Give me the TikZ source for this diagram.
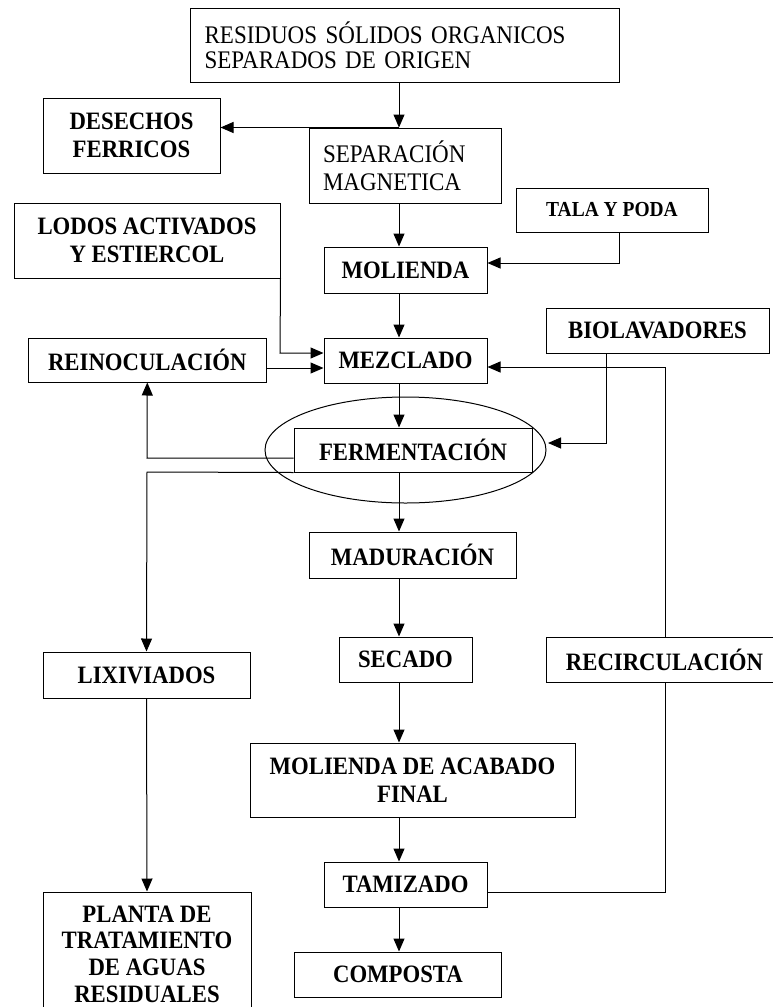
\documentclass[tikz,border=0pt]{standalone}
\usepackage{fontspec}
\setmainfont[FakeStretch=0.91]{Liberation Serif}
\usetikzlibrary{arrows.meta,shapes.geometric}
\begin{document}
\begin{tikzpicture}[x=1pt,y=-1pt,
  box/.style={draw, line width=1pt, inner sep=0pt, align=center, font=\fontsize{25pt}{27.5pt}\selectfont\bfseries},
  plainbox/.style={draw, line width=1pt, inner ysep=0pt, align=left},
  arr/.style={line width=1pt, -{Triangle[length=13pt,width=11pt]}},
  ln/.style={line width=1pt}]
\useasboundingbox (0,0) rectangle (773,1007);
\clip (0,0) rectangle (773,1007);

% nodes
\node[plainbox, text width=400.4pt, inner xsep=14pt, minimum height=74pt,
      font=\fontsize{25.3pt}{25pt}\selectfont] (res) at (404.8,45) {RESIDUOS SÓLIDOS ORGANICOS\\SEPARADOS DE ORIGEN};
\node[box, minimum width=177pt, minimum height=75pt] (des) at (131.5,135.5) {DESECHOS\\FERRICOS};
\node[plainbox, text width=164.5pt, inner xsep=14pt, minimum height=75pt,
      font=\fontsize{25.3pt}{28pt}\selectfont] (sep) at (405.25,165.5) {SEPARACIÓN\\MAGNETICA};
\node[box, minimum width=192pt, minimum height=44pt, font=\fontsize{21.4pt}{24pt}\selectfont\bfseries] (tala) at (612,210) {TALA Y PODA};
\node[box, minimum width=266pt, minimum height=75pt] (lodos) at (147,240.5) {LODOS ACTIVADOS\\Y ESTIERCOL};
\node[box, minimum width=163pt, minimum height=46pt] (mol) at (405.5,270) {MOLIENDA};
\node[box, minimum width=163pt, minimum height=45pt] (mez) at (405.5,360.5) {MEZCLADO};
\node[box, minimum width=237.4pt, minimum height=44pt] (reino) at (147.3,360) {REINOCULACIÓN};
\node[box, minimum width=223pt, minimum height=45pt] (bio) at (657.5,330.5) {BIOLAVADORES};
\node[draw, line width=1pt, ellipse, inner sep=0pt, minimum width=281pt, minimum height=106pt] (ell) at (405.5,450) {};
\node[box, minimum width=238pt, minimum height=44pt] (ferm) at (413,450) {FERMENTACIÓN};
\node[box, minimum width=207pt, minimum height=46pt] (mad) at (412.5,555) {MADURACIÓN};
\node[box, minimum width=133pt, minimum height=45pt] (sec) at (405.5,659.5) {SECADO};
\node[box, minimum width=237pt, minimum height=45pt] (rec) at (664.5,659.5) {RECIRCULACIÓN};
\node[box, minimum width=207pt, minimum height=46pt] (lix) at (146.5,675) {LIXIVIADOS};
\node[box, minimum width=325pt, minimum height=74pt] (molf) at (412.5,780) {MOLIENDA DE ACABADO\\FINAL};
\node[box, minimum width=163pt, minimum height=45pt] (tam) at (405.5,884.5) {TAMIZADO};
\node[box, minimum width=207pt, minimum height=45pt] (com) at (398,974.5) {COMPOSTA};
\node[box, minimum width=208pt, minimum height=124pt, font=\fontsize{25pt}{26.7pt}\selectfont\bfseries] (pla) at (147,954) {PLANTA DE\\TRATAMIENTO\\DE AGUAS\\RESIDUALES};

% helper coordinates
\coordinate (cx) at (399,0);
\coordinate (talaturn) at (619,263);
\coordinate (lodturn) at (280,353);
\coordinate (reinoy) at (0,368);
\coordinate (recturn) at (665,367);
\coordinate (bioturn) at (606,443);
\coordinate (bioend) at (548,443);
\coordinate (fermturn) at (147,458);
\coordinate (lixturn) at (147,472);
\coordinate (tamturn) at (665,892);

% main column
\draw[arr] (res.south -| cx) -- (sep.north -| cx);
\draw[arr] (sep.north -| cx) -- (des.east |- sep.north);
\draw[arr] (sep.south -| cx) -- (mol.north -| cx);
\draw[arr] (mol.south -| cx) -- (mez.north -| cx);
\draw[arr] (mez.south -| cx) -- (ferm.north -| cx);
\draw[arr] (ferm.south -| cx) -- (mad.north -| cx);
\draw[arr] (mad.south -| cx) -- (sec.north -| cx);
\draw[arr] (sec.south -| cx) -- (molf.north -| cx);
\draw[arr] (molf.south -| cx) -- (tam.north -| cx);
\draw[arr] (tam.south -| cx) -- (com.north -| cx);

% side inputs
\draw[arr] (tala.south -| talaturn) -- (talaturn) -- (mol.east |- talaturn);
\draw[arr] (lodos.south east) -- (lodturn) -- (mez.west |- lodturn);
\draw[arr] (reino.east |- reinoy) -- (mez.west |- reinoy);
\draw[arr] (bio.south -| bioturn) -- (bioturn) -- (bioend);

% feedback and outputs
\draw[arr] (ferm.west |- fermturn) -- (fermturn) -- (reino.south);
\draw[arr] (ferm.south west) -- (lixturn) -- (lix.north);
\draw[arr] (lix.south) -- (pla.north);
\draw[ln] (tam.east |- tamturn) -- (tamturn) -- (rec.south -| tamturn);
\draw[arr] (rec.north -| recturn) -- (recturn) -- (mez.east |- recturn);
\end{tikzpicture}
\end{document}
